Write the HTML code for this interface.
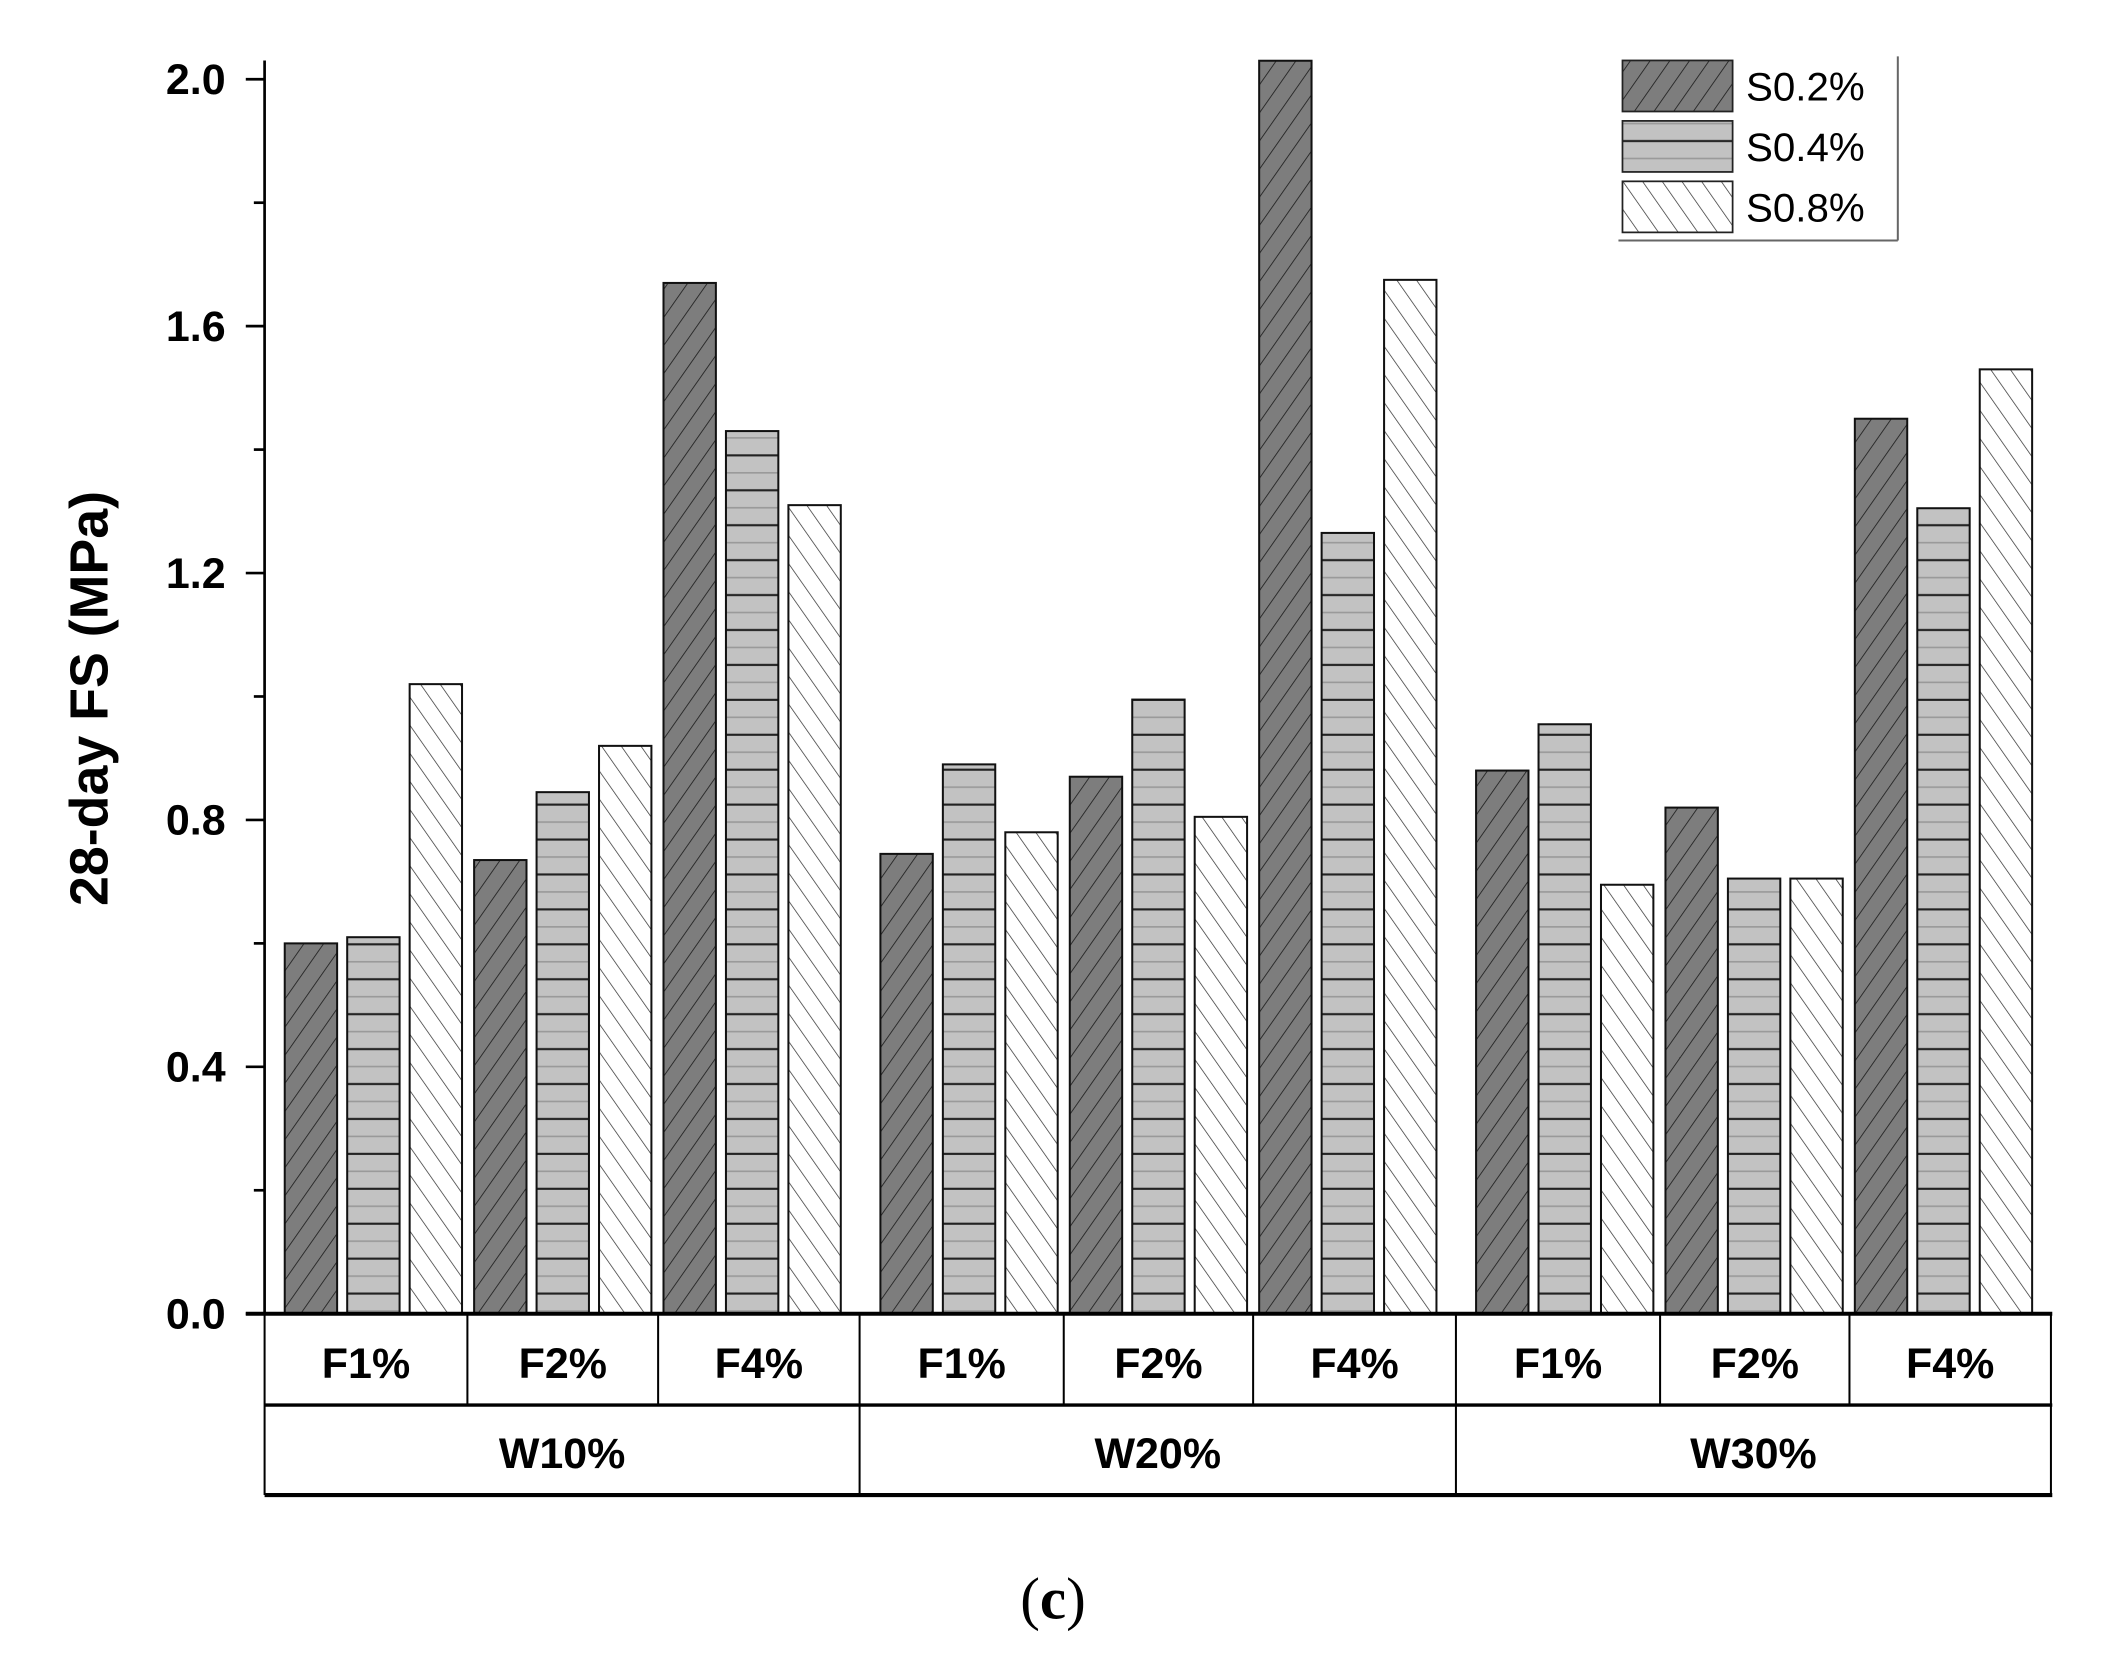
<!DOCTYPE html>
<html><head><meta charset="utf-8"><style>html,body{margin:0;padding:0;background:#fff}svg{display:block}</style></head>
<body>
<svg id="chart" width="2106" height="1667" viewBox="0 0 1568 1241" preserveAspectRatio="none" xmlns="http://www.w3.org/2000/svg" font-family="Liberation Sans, Arial, sans-serif">
<defs>
<pattern id="p1" patternUnits="userSpaceOnUse" width="12" height="12" patternTransform="rotate(35)"><rect width="12" height="12" fill="#7d7d7d"/><line x1="0" y1="0" x2="0" y2="12" stroke="#222" stroke-width="1.3"/></pattern>
<pattern id="p2" patternUnits="userSpaceOnUse" width="10" height="26"><rect width="10" height="26" fill="#c2c2c2"/><line x1="0" y1="1" x2="10" y2="1" stroke="#222" stroke-width="1.6"/><line x1="0" y1="14" x2="10" y2="14" stroke="#999" stroke-width="1.2"/></pattern>
<pattern id="p3" patternUnits="userSpaceOnUse" width="12" height="12" patternTransform="rotate(-35)"><rect width="12" height="12" fill="#fff"/><line x1="0" y1="0" x2="0" y2="12" stroke="#333" stroke-width="1.1"/></pattern>
</defs>
<g id="bars"></g>
<g id="axis"></g>
<g id="table"></g>
<g id="legend"></g>
<text transform="translate(80,520) rotate(-90)" text-anchor="middle" font-size="40" font-weight="bold">28-day FS (MPa)</text>
<text x="784" y="1205" text-anchor="middle" font-family="Liberation Serif, serif" font-size="44">(<tspan font-weight="bold">c</tspan>)</text>
</svg>
<script>
const wLabels = ["W10%","W20%","W30%"];
const fLabels = ["F1%","F2%","F4%"];
const seriesNames = ["S0.2%","S0.4%","S0.8%"];
const s02 = [0.60,0.735,1.67, 0.745,0.87,2.03, 0.88,0.82,1.45];
const s04 = [0.61,0.845,1.43, 0.89,0.995,1.265, 0.955,0.705,1.305];
const s08 = [1.02,0.92,1.31, 0.78,0.805,1.675, 0.695,0.705,1.53];
const yTicks = [0,0.4,0.8,1.2,1.6,2.0];
const yTickLabels = ["0.0","0.4","0.8","1.2","1.6","2.0"];

const NS="http://www.w3.org/2000/svg";
const y0=978, pxPer=(978-59)/2.0;
const yScale=v=>y0-v*pxPer;
const xScale=(w,f,s)=>212+w*443.5+f*141+s*46.5;
const fills=["url(#p1)","url(#p2)","url(#p3)"];
function mk(tag,attrs,parent){const e=document.createElementNS(NS,tag);for(const k in attrs)e.setAttribute(k,attrs[k]);parent.appendChild(e);return e;}
const bars=document.getElementById('bars');
[s02,s04,s08].forEach((arr,s)=>{
  arr.forEach((v,i)=>{
    const w=Math.floor(i/3),f=i%3;
    const r=mk('rect',{x:xScale(w,f,s),y:yScale(v),width:39,height:y0-yScale(v),fill:fills[s],stroke:'#111','stroke-width':1.5},bars);
    
    
  });
});
const ax=document.getElementById('axis');
const yl=mk('line',{x1:197,y1:45,x2:197,y2:978,stroke:'#000','stroke-width':2},ax);


for(let v=0;v<=2.0001;v+=0.2){
  const major=Math.round(v*10)%4===0;
  mk('line',{x1:major?183:189,y1:yScale(v),x2:197,y2:yScale(v),stroke:'#000','stroke-width':2},ax);
}
yTicks.forEach((v,i)=>{
  const t=mk('text',{x:168,y:yScale(v)+11,'text-anchor':'end','font-size':32,'font-weight':'bold'},ax);
  t.textContent=yTickLabels[i];
  
  
});
const tb=document.getElementById('table');
mk('line',{x1:183,y1:978,x2:1528,y2:978,stroke:'#000','stroke-width':3},tb);
mk('line',{x1:197,y1:1046,x2:1528,y2:1046,stroke:'#000','stroke-width':2.5},tb);
mk('line',{x1:197,y1:1113,x2:1528,y2:1113,stroke:'#000','stroke-width':3},tb);
mk('line',{x1:197,y1:978,x2:197,y2:1113,stroke:'#000','stroke-width':1.5},tb);
mk('line',{x1:1527,y1:978,x2:1527,y2:1113,stroke:'#000','stroke-width':1.5},tb);
const cols=[197,348,490,640,792,933,1084,1236,1377,1527];
for(let i=1;i<9;i++){mk('line',{x1:cols[i],y1:978,x2:cols[i],y2:(i%3===0)?1113:1046,stroke:'#000','stroke-width':1.5},tb);}
for(let i=0;i<9;i++){
  const t=mk('text',{x:(cols[i]+cols[i+1])/2,y:1026,'text-anchor':'middle','font-size':32,'font-weight':'bold'},tb);
  t.textContent=fLabels[i%3];
  
  
}
for(let w=0;w<3;w++){
  const t=mk('text',{x:(cols[w*3]+cols[w*3+3])/2,y:1093,'text-anchor':'middle','font-size':32,'font-weight':'bold'},tb);
  t.textContent=wLabels[w];
  
  
}
const lg=document.getElementById('legend');
mk('line',{x1:1413,y1:42,x2:1413,y2:179,stroke:'#666','stroke-width':1.5},lg);
mk('line',{x1:1205,y1:179,x2:1413,y2:179,stroke:'#666','stroke-width':1.5},lg);
seriesNames.forEach((n,s)=>{
  const y=45+s*45;
  const r=mk('rect',{x:1208,y:y,width:82,height:38,fill:fills[s],stroke:'#222','stroke-width':1.3},lg);
  
  
  const t=mk('text',{x:1300,y:y+30,'font-size':30},lg);
  t.textContent=n;
  
  
});
</script>
</body></html>
